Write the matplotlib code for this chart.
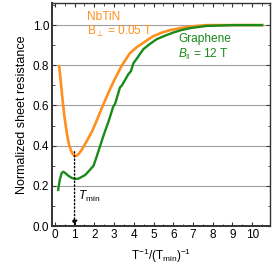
import matplotlib
matplotlib.use("Agg")
import matplotlib.pyplot as plt
from matplotlib.ticker import MultipleLocator

plt.rcParams['font.family'] = ['Liberation Sans', 'DejaVu Sans']
plt.rcParams['mathtext.fontset'] = 'custom'
plt.rcParams['mathtext.rm'] = 'Liberation Sans'
plt.rcParams['mathtext.it'] = 'Liberation Sans:italic'

nbtin_x = [0.22, 0.3, 0.38, 0.48, 0.61, 0.72, 0.82, 0.92, 1.0, 1.1, 1.2, 1.37, 1.6, 1.88, 2.1, 2.39, 2.7, 2.98, 3.4, 3.8, 4.15, 4.6, 4.99, 5.4, 5.84, 6.3, 6.68, 7.2, 7.7, 8.5, 9.5, 10.5]
nbtin_y = [0.795, 0.72, 0.64, 0.55, 0.46, 0.405, 0.375, 0.357, 0.348, 0.35, 0.358, 0.38, 0.42, 0.47, 0.52, 0.59, 0.66, 0.72, 0.80, 0.86, 0.89, 0.92, 0.945, 0.962, 0.975, 0.984, 0.99, 0.996, 1.0, 1.0, 1.0, 1.0]

gr_x = [0.17, 0.25, 0.35, 0.44, 0.55, 0.69, 0.85, 1.03, 1.2, 1.54, 1.78, 1.96, 2.1, 2.3, 2.5, 2.72, 2.96, 3.06, 3.3, 3.4, 3.72, 3.85, 3.98, 4.2, 4.48, 4.8, 5.16, 5.6, 6.0, 6.4, 6.85, 7.7, 8.4, 9.05, 10.5]
gr_y = [0.18, 0.23, 0.265, 0.27, 0.262, 0.25, 0.24, 0.234, 0.236, 0.254, 0.28, 0.30, 0.34, 0.40, 0.46, 0.52, 0.595, 0.61, 0.69, 0.70, 0.755, 0.77, 0.81, 0.84, 0.88, 0.905, 0.93, 0.948, 0.963, 0.975, 0.985, 0.996, 0.998, 1.0, 1.0]

orange = '#ff8f1f'
green = '#1a8a1a'

fig = plt.figure(figsize=(2.73, 2.73), dpi=100)
ax = fig.add_axes([0.19, 0.172, 0.799, 0.817])

for yv in [0.2, 0.4, 0.6, 0.8, 1.0]:
    ax.axhline(yv, color='#a0a0a0', lw=0.8, zorder=0)

ax.plot(nbtin_x, nbtin_y, color=orange, lw=1.9, zorder=3, solid_joinstyle='round')
ax.plot(gr_x, gr_y, color=green, lw=1.7, zorder=3, solid_joinstyle='round')

ax.annotate('', xy=(1.0, 0.0), xytext=(1.0, 0.37),
            arrowprops=dict(arrowstyle='-|>', linestyle=':', color='black', lw=1.0,
                            mutation_scale=8, shrinkA=0, shrinkB=0), zorder=4)

fs = 8.6
ax.text(1.61, 1.04, 'NbTiN', color=orange, fontsize=fs, va='center', ha='left')
ax.text(1.61, 0.97, 'B$_{\\perp}$ = 0.05 T', color=orange, fontsize=fs, va='center', ha='left')
ax.text(6.26, 0.93, 'Graphene', color=green, fontsize=fs, va='center', ha='left')
ax.text(6.26, 0.855, '$\\mathit{B}_{\\|}$ = 12 T', color=green, fontsize=fs, va='center', ha='left')
ax.text(1.15, 0.146, '$\\mathit{T}_{\\mathrm{min}}$', color='black', fontsize=fs, va='center', ha='left')

ax.set_xlim(-0.15, 10.9)
ax.set_ylim(0, 1.11)
ax.xaxis.set_major_locator(MultipleLocator(1))
ax.xaxis.set_minor_locator(MultipleLocator(0.5))
ax.yaxis.set_major_locator(MultipleLocator(0.2))
ax.yaxis.set_minor_locator(MultipleLocator(0.1))
ax.yaxis.set_major_formatter(plt.FuncFormatter(lambda v, p: f'{v:.1f}'))
ax.tick_params(which='both', direction='in', top=True, right=True, labelsize=8.5, color='#333333', pad=2)
ax.tick_params(which='major', length=3, width=0.8)
ax.tick_params(which='minor', length=1.8, width=0.6)
for s in ax.spines.values():
    s.set_color('#333333')
    s.set_linewidth(1.0)
ax.spines['left'].set_linewidth(1.4)
ax.spines['bottom'].set_linewidth(1.4)

ax.set_ylabel('Normalized sheet resistance', fontsize=9, labelpad=3)
ax.set_xlabel('T$^{-1}$/(T$_{\\mathrm{min}}$)$^{-1}$', fontsize=8.5, labelpad=4)

fig.savefig('out.png', dpi=100)
